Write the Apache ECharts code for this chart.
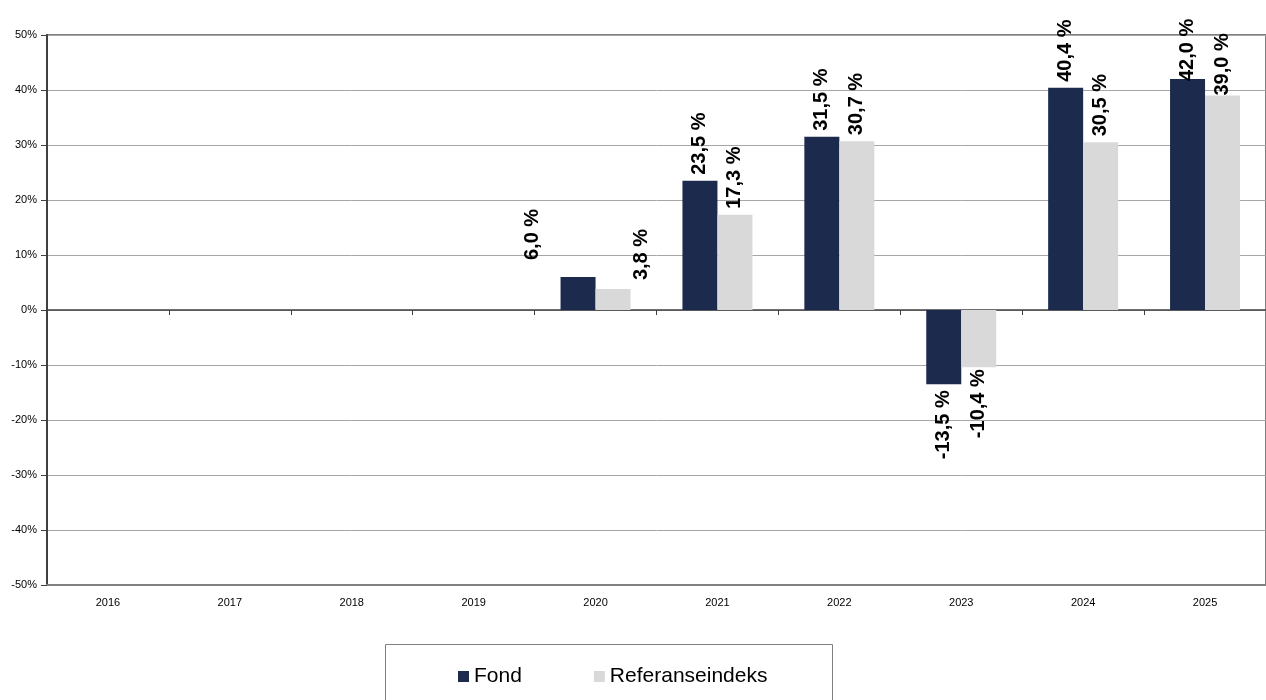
<!DOCTYPE html>
<html>
<head>
<meta charset="utf-8">
<script src="https://cdn.jsdelivr.net/npm/echarts@6/dist/echarts.min.js"></script>
<style>
html,body{margin:0;padding:0;background:#fff;}
#c{width:1266px;height:700px;}
</style>
</head>
<body>
<div id="c"></div>
<script>
const categories = ['2016','2017','2018','2019','2020','2021','2022','2023','2024','2025'];
const fondValues = [null, null, null, null, 6.0, 23.5, 31.5, -13.5, 40.4, 42.0];
const refValues = [null, null, null, null, 3.8, 17.3, 30.7, -10.4, 30.5, 39.0];
const yTicks = [-50, -40, -30, -20, -10, 0, 10, 20, 30, 40, 50];
const seriesNames = ['Fond', 'Referanseindeks'];

// label placement tweaks (style only)
const fondLabelTweaks = {4: {position: [-28, -17]}, 9: {distance: -2}};
const refLabelTweaks = {4: {position: [46, -9]}, 9: {distance: 0}, 7: {distance: 2}};

function fmt(v) { return v.toFixed(1).replace('.', ',') + ' %'; }

function buildData(values, tweaks) {
  return values.map((v, i) => {
    if (v === null) return null;
    const label = v < 0
      ? {position: 'bottom', align: 'right', distance: 6}
      : {position: 'top', align: 'left', distance: 6};
    Object.assign(label, tweaks[i] || {});
    return {value: v, label: label};
  });
}

const labelBase = {
  show: true, rotate: 90, verticalAlign: 'middle',
  fontFamily: 'Liberation Sans, Arial, sans-serif', fontWeight: 'bold', fontSize: 20, color: '#000',
  formatter: p => fmt(p.value)
};

const chart = echarts.init(document.getElementById('c'));
chart.setOption({
  animation: false,
  backgroundColor: '#fff',
  textStyle: {fontFamily: 'Liberation Sans, Arial, sans-serif'},
  grid: {left: 47, right: -1, top: 35, bottom: 115, show: true, borderColor: '#808080', borderWidth: 2, containLabel: false},
  graphic: [{
    type: 'rect', left: 385, top: 644,
    shape: {width: 447, height: 70},
    style: {fill: '#fff', stroke: '#808080', lineWidth: 1}, z: 0
  }],
  legend: {
    data: seriesNames, left: 453, top: 661, icon: 'rect', itemWidth: 11, itemHeight: 11, itemGap: 72,
    textStyle: {fontSize: 21, color: '#000', fontFamily: 'Liberation Sans, Arial, sans-serif'}, z: 5
  },
  xAxis: [{
    type: 'category', data: categories, position: 'bottom',
    axisLine: {onZero: false, lineStyle: {color: '#808080', width: 2}},
    axisTick: {show: false},
    axisLabel: {fontSize: 11, color: '#000', margin: 12}
  }, {
    type: 'category', data: categories, position: 'bottom',
    axisLine: {onZero: true, onZeroAxisIndex: 0, lineStyle: {color: '#404040', width: 1.5}},
    axisTick: {show: true, length: 5, lineStyle: {color: '#404040'}},
    axisLabel: {show: false}
  }],
  yAxis: {
    type: 'value', min: -50, max: 50, interval: 10,
    axisLine: {show: true, lineStyle: {color: '#404040', width: 2}},
    axisTick: {show: true, length: 6, lineStyle: {color: '#404040'}},
    axisLabel: {fontSize: 11, color: '#000', margin: 10, formatter: v => yTicks.includes(v) ? v + '%' : ''},
    splitLine: {lineStyle: {color: '#a6a6a6', width: 1}}
  },
  series: [{
    name: seriesNames[0], type: 'bar', barWidth: 35, barGap: '0%',
    itemStyle: {color: '#1c2a4e'},
    label: labelBase,
    data: buildData(fondValues, fondLabelTweaks)
  }, {
    name: seriesNames[1], type: 'bar', barWidth: 35, barGap: '0%',
    itemStyle: {color: '#d9d9d9'},
    label: labelBase,
    data: buildData(refValues, refLabelTweaks)
  }]
});
</script>
</body>
</html>
